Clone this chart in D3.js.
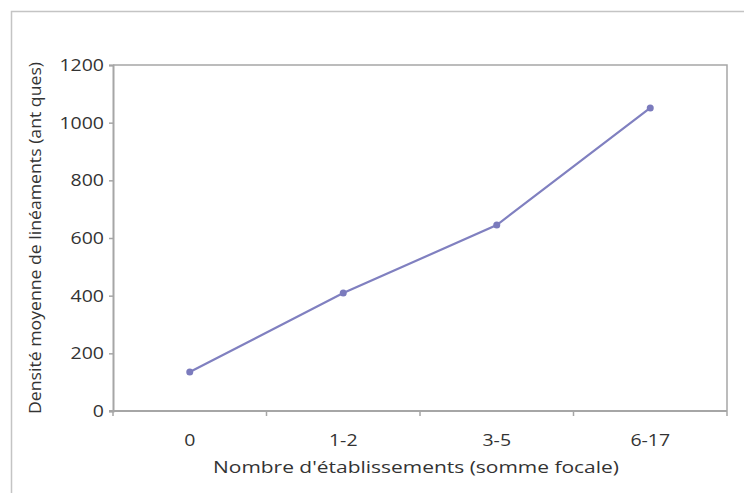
<!DOCTYPE html>
<html><head><meta charset="utf-8">
<script src="https://cdn.jsdelivr.net/npm/d3@7"></script>
<style>
html,body{margin:0;padding:0;background:#fff;}
svg{display:block;}
text{font-family:"Open Sans",sans-serif;fill:#333;}
</style></head>
<body>
<svg id="c" width="744" height="493"></svg>
<script>
const categories = ["0", "1-2", "3-5", "6-17"];
const values = [135, 409, 645, 1051];
const yTicks = [0, 200, 400, 600, 800, 1000, 1200];
const xTitle = "Nombre d'établissements (somme focale)";
const yTitle = "Densité moyenne de linéaments (ant ques)";

const svg = d3.select("#c");
const L = 113, T = 65, R = 727, B = 411;
const SX = 1.22; // horizontal stretch of text in the reference

svg.append("path").attr("d", "M11.5,493 V11.5 H744")
  .attr("fill", "none").attr("stroke", "#c4c4c4").attr("stroke-width", 1.5);

const x = d3.scaleBand().domain(categories).range([L, R]).padding(0);
const y = d3.scaleLinear().domain([0, 1200]).range([B, T]);

svg.append("path").attr("d", `M${L},${T} H${R} V${B}`)
  .attr("fill", "none").attr("stroke", "#a6a6a6").attr("stroke-width", 1.5);

// y axis
const yAxis = d3.axisLeft(y).tickValues(yTicks).tickSize(4).tickFormat(d3.format("d"));
const gy = svg.append("g").attr("transform", `translate(${L},0)`).call(yAxis);
gy.select(".domain").attr("stroke", "#a6a6a6").attr("stroke-width", 2);
gy.selectAll(".tick line").attr("stroke", "#a6a6a6").attr("stroke-width", 1.5);
gy.selectAll(".tick text").attr("font-size", 16).attr("fill", "#333").attr("font-family", "Open Sans")
  .attr("x", 0).attr("dy", "0.34em")
  .attr("transform", `translate(-9,0) scale(${SX},1)`);

// x axis
const gx = svg.append("g").attr("transform", `translate(0,${B})`);
gx.append("line").attr("x1", L - 4).attr("x2", R).attr("y1", 0).attr("y2", 0)
  .attr("stroke", "#a6a6a6").attr("stroke-width", 2);
const bounds = categories.map(c => x(c)).concat([x(categories[categories.length - 1]) + x.bandwidth()]);
gx.selectAll("line.t").data(bounds).enter().append("line").attr("class", "t")
  .attr("x1", d => d).attr("x2", d => d).attr("y1", 0).attr("y2", 5)
  .attr("stroke", "#a6a6a6").attr("stroke-width", 1.5);
gx.selectAll("text").data(categories).enter().append("text")
  .attr("transform", d => `translate(${x(d) + x.bandwidth() / 2},35) scale(${SX},1)`)
  .attr("text-anchor", "middle").attr("font-size", 16).text(d => d);

// line
const line = d3.line().x((d, i) => x(categories[i]) + x.bandwidth() / 2).y(d => y(d));
svg.append("path").datum(values).attr("d", line)
  .attr("fill", "none").attr("stroke", "#8080c0").attr("stroke-width", 2.2);
svg.selectAll("circle").data(values).enter().append("circle")
  .attr("cx", (d, i) => x(categories[i]) + x.bandwidth() / 2).attr("cy", d => y(d))
  .attr("r", 3.5).attr("fill", "#7b7bbd");

// titles
svg.append("text").attr("x", 416).attr("y", 473).attr("text-anchor", "middle")
  .attr("font-size", 16.5).attr("textLength", 406).attr("lengthAdjust", "spacingAndGlyphs").text(xTitle);
svg.append("text").attr("transform", `translate(41,238) rotate(-90)`)
  .attr("text-anchor", "middle").attr("font-size", 16.5)
  .attr("textLength", 352).attr("lengthAdjust", "spacingAndGlyphs").text(yTitle);
</script>
</body></html>
